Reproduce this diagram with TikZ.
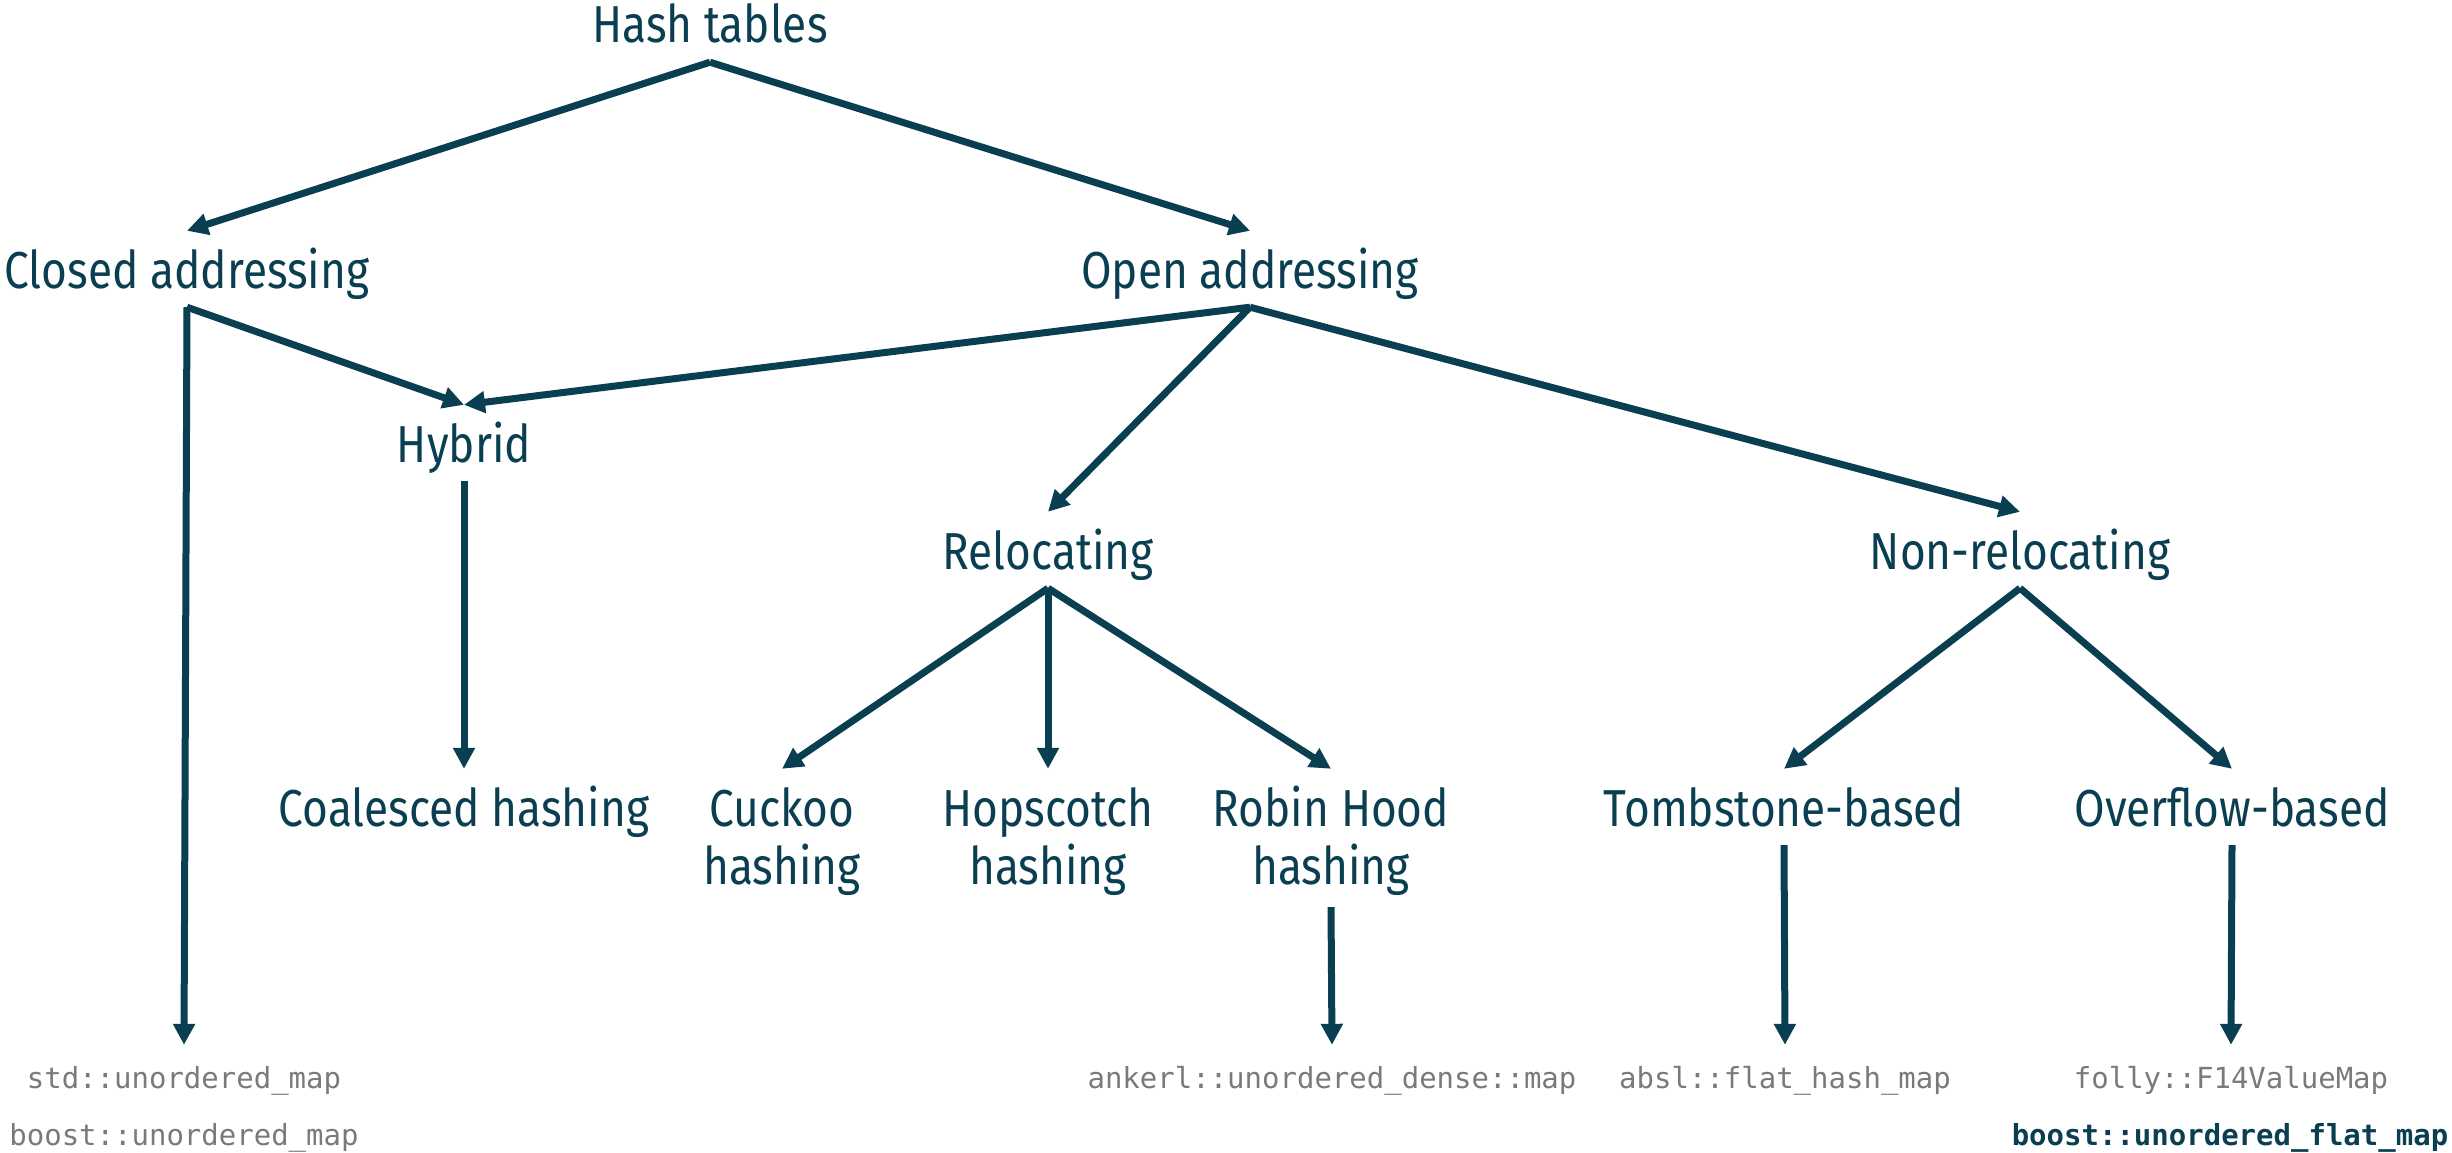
\documentclass[tikz,border=0pt]{standalone}
\usepackage{fontspec}
\setmainfont{Fira Sans}[FakeStretch=0.85]
\newfontfamily\monof{DejaVu Sans Mono}
\usetikzlibrary{arrows.meta}
\definecolor{hdark}{HTML}{0A3F51}
\definecolor{hgrey}{HTML}{7A7A7A}
\tikzset{
  lbl/.style={text=hdark, font=\fontsize{52}{58}\selectfont, inner sep=0pt, anchor=base, text height=57pt, text depth=19pt},
  lbltwo/.style={lbl, text depth=23pt},
  code/.style={text=hgrey, font=\monof\fontsize{29}{32}\selectfont, inner sep=0pt, anchor=base, text height=43pt, text depth=8pt},
  codebold/.style={code, text=hdark, font=\monof\bfseries\fontsize{29}{32}\selectfont},
  arr/.style={draw=hdark, line width=7pt, -{Triangle[width=21pt,length=21pt]}},
}
\begin{document}
\begin{tikzpicture}[x=1pt,y=-1pt]
\useasboundingbox (0,0) rectangle (2452,1153);
% labels
\node[lbl] (ht) at (710,43) {Hash tables};
\node[lbl] (ca) at (187,288) {Closed addressing};
\node[lbl] (oa) at (1250,288) {Open addressing};
\node[lbl] (hy) at (464,462) {Hybrid};
\node[lbl] (re) at (1048,569) {Relocating};
\node[lbl] (nr) at (2020,569) {Non-relocating};
\node[lbl] (co) at (464,826) {Coalesced hashing};
\node[lbl] (cu) at (782,826) {Cuckoo};
\node[lbltwo] (cu2) at (782,884) {hashing};
\node[lbl] (hs) at (1048,826) {Hopscotch};
\node[lbltwo] (hs2) at (1048,884) {hashing};
\node[lbl] (rh) at (1331,826) {Robin Hood};
\node[lbltwo] (rh2) at (1331,884) {hashing};
\node[lbl] (tb) at (1784,826) {Tombstone-based};
\node[lbl] (ob) at (2232,826) {Overflow-based};
% code
\node[code] (std) at (184,1088) {std::unordered\_map};
\node[code] (bstd) at (184,1145) {boost::unordered\_map};
\node[code] (ank) at (1332,1088) {ankerl::unordered\_dense::map};
\node[code] (absl) at (1785,1088) {absl::flat\_hash\_map};
\node[code] (folly) at (2231,1088) {folly::F14ValueMap};
\node[codebold] (bflat) at (2230,1145) {boost::unordered\_flat\_map};
% connectors
\draw[arr] (ht.south) -- (ca.north);
\draw[arr] (ht.south) -- (oa.north);
\draw[arr] (ca.south) -- (hy.north);
\draw[arr] (ca.south) -- (std.north);
\draw[arr] (oa.south) -- (hy.north);
\draw[arr] (oa.south) -- (re.north);
\draw[arr] (oa.south) -- (nr.north);
\draw[arr] (hy.south) -- (co.north);
\draw[arr] (re.south) -- (cu.north);
\draw[arr] (re.south) -- (hs.north);
\draw[arr] (re.south) -- (rh.north);
\draw[arr] (rh2.south) -- (ank.north);
\draw[arr] (nr.south) -- (tb.north);
\draw[arr] (nr.south) -- (ob.north);
\draw[arr] (tb.south) -- (absl.north);
\draw[arr] (ob.south) -- (folly.north);
\end{tikzpicture}
\end{document}
